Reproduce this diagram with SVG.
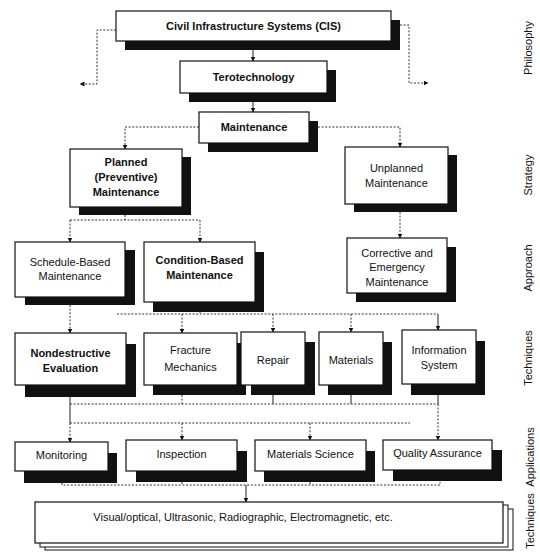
<svg xmlns="http://www.w3.org/2000/svg" width="540" height="552" viewBox="0 0 540 552">
<defs>
<style>
.sh{fill:#111}
.bx{fill:#fff;stroke:#111;stroke-width:1.2}
.t{font-family:"Liberation Sans",Arial,sans-serif;font-size:11px;fill:#111;text-anchor:middle}
.b{font-weight:bold}
.lbl{font-family:"Liberation Sans",Arial,sans-serif;font-size:11px;fill:#111;text-anchor:middle}
.c{fill:none;stroke:#333;stroke-width:1;stroke-dasharray:2 1.6}
.s{fill:none;stroke:#222;stroke-width:1}
</style>
<marker id="ar" viewBox="0 0 10 10" refX="9" refY="5" markerWidth="5" markerHeight="5" orient="auto" markerUnits="userSpaceOnUse">
<path d="M0,0 L10,5 L0,10 z" fill="#111"/>
</marker>
</defs>
<rect width="540" height="552" fill="#fff"/>

<g id="connectors">
<path class="s" d="M253,50 V61" marker-end="url(#ar)"/>
<path class="s" d="M253,102 V112" marker-end="url(#ar)"/>
<path class="c" d="M116,30 H97 V84 H80" marker-end="url(#ar)"/>
<path class="c" d="M400,25 H409 V83 H428" marker-end="url(#ar)"/>
<path class="c" d="M199,127 H125 V149" marker-end="url(#ar)"/>
<path class="c" d="M318,127 H400 V147" marker-end="url(#ar)"/>
<path class="c" d="M125,215 V220"/>
<path class="c" d="M70,220 H200"/>
<path class="c" d="M70,220 V242" marker-end="url(#ar)"/>
<path class="c" d="M200,220 V242" marker-end="url(#ar)"/>
<path class="c" d="M400,212 V238" marker-end="url(#ar)"/>
<path class="c" d="M70,305 V333" marker-end="url(#ar)"/>
<path class="c" d="M200,311 V314"/>
<path class="c" d="M117,314 H438"/>
<path class="c" d="M182,314 V333" marker-end="url(#ar)"/>
<path class="c" d="M273,314 V332" marker-end="url(#ar)"/>
<path class="c" d="M351,314 V332" marker-end="url(#ar)"/>
<path class="s" d="M438,314 V330" marker-end="url(#ar)"/>
<path class="s" d="M70,397 V423"/>
<path class="c" d="M70,404 H438"/>
<path class="c" d="M182,395 V404"/>
<path class="s" d="M273,395 V404"/>
<path class="s" d="M351,395 V404"/>
<path class="s" d="M438,395 V404"/>
<path class="c" d="M70,423 H410"/>
<path class="c" d="M70,423 V442" marker-end="url(#ar)"/>
<path class="c" d="M182,423 V440" marker-end="url(#ar)"/>
<path class="c" d="M310,423 V440" marker-end="url(#ar)"/>
<path class="c" d="M438,404 V440" marker-end="url(#ar)"/>
<path class="c" d="M62,483 V485 H440 V482"/>
<path class="c" d="M182,482 V485"/>
<path class="c" d="M310,482 V485"/>
<path class="s" d="M246,485 V502" marker-end="url(#ar)"/>
</g>

<g id="n-cis">
<rect class="sh" x="125" y="20" width="275" height="30"/>
<rect class="bx" x="116" y="11" width="275" height="30"/>
<text class="t b" x="253.5" y="30">Civil Infrastructure Systems (CIS)</text>
</g>
<g id="n-tero">
<rect class="sh" x="189" y="70" width="147" height="32"/>
<rect class="bx" x="180" y="61" width="147" height="32"/>
<text class="t b" x="253.5" y="81">Terotechnology</text>
</g>
<g id="n-maint">
<rect class="sh" x="208" y="121" width="110" height="31"/>
<rect class="bx" x="199" y="112" width="110" height="31"/>
<text class="t b" x="254" y="131">Maintenance</text>
</g>
<g id="n-planned">
<rect class="sh" x="79" y="157" width="112" height="58"/>
<rect class="bx" x="70" y="149" width="112" height="58"/>
<text class="t b" x="126" y="166">Planned</text>
<text class="t b" x="126" y="181">(Preventive)</text>
<text class="t b" x="126" y="196">Maintenance</text>
</g>
<g id="n-unplanned">
<rect class="sh" x="354" y="155" width="103" height="57"/>
<rect class="bx" x="345" y="147" width="103" height="57"/>
<text class="t" x="396.5" y="172">Unplanned</text>
<text class="t" x="396.5" y="187">Maintenance</text>
</g>
<g id="n-schedule">
<rect class="sh" x="25" y="250" width="110" height="55"/>
<rect class="bx" x="15" y="242" width="110" height="55"/>
<text class="t" x="70" y="266">Schedule-Based</text>
<text class="t" x="70" y="280">Maintenance</text>
</g>
<g id="n-condition">
<rect class="sh" x="153" y="252" width="111" height="60"/>
<rect class="bx" x="144" y="242" width="111" height="60"/>
<text class="t b" x="199.5" y="264">Condition-Based</text>
<text class="t b" x="199.5" y="279">Maintenance</text>
</g>
<g id="n-corrective">
<rect class="sh" x="356" y="247" width="100" height="55"/>
<rect class="bx" x="347" y="238" width="100" height="55"/>
<text class="t" x="397" y="257">Corrective and</text>
<text class="t" x="397" y="271">Emergency</text>
<text class="t" x="397" y="286">Maintenance</text>
</g>
<g id="n-nde">
<rect class="sh" x="25" y="344" width="111" height="53"/>
<rect class="bx" x="15" y="333" width="111" height="52"/>
<text class="t b" x="70.5" y="357">Nondestructive</text>
<text class="t b" x="70.5" y="372">Evaluation</text>
</g>
<g id="n-fracture">
<rect class="sh" x="153" y="343" width="93" height="52"/>
<rect class="bx" x="144" y="333" width="93" height="52"/>
<text class="t" x="190.5" y="354">Fracture</text>
<text class="t" x="190.5" y="371">Mechanics</text>
</g>
<g id="n-repair">
<rect class="sh" x="251" y="342" width="64" height="53"/>
<rect class="bx" x="241" y="332" width="64" height="53"/>
<text class="t" x="273" y="364">Repair</text>
</g>
<g id="n-materials">
<rect class="sh" x="328" y="342" width="64" height="53"/>
<rect class="bx" x="319" y="332" width="64" height="53"/>
<text class="t" x="351" y="364">Materials</text>
</g>
<g id="n-info">
<rect class="sh" x="411" y="341" width="74" height="54"/>
<rect class="bx" x="402" y="330" width="74" height="54"/>
<text class="t" x="439" y="354">Information</text>
<text class="t" x="439" y="369">System</text>
</g>
<g id="n-monitoring">
<rect class="sh" x="24" y="453" width="93" height="30"/>
<rect class="bx" x="15" y="442" width="93" height="29"/>
<text class="t" x="61.5" y="459">Monitoring</text>
</g>
<g id="n-inspection">
<rect class="sh" x="136" y="451" width="111" height="31"/>
<rect class="bx" x="126" y="440" width="111" height="31"/>
<text class="t" x="181.5" y="458">Inspection</text>
</g>
<g id="n-matsci">
<rect class="sh" x="264" y="451" width="111" height="31"/>
<rect class="bx" x="255" y="440" width="111" height="31"/>
<text class="t" x="310.5" y="458">Materials Science</text>
</g>
<g id="n-qa">
<rect class="sh" x="393" y="450" width="109" height="31"/>
<rect class="bx" x="383" y="440" width="109" height="30"/>
<text class="t" x="437.5" y="457">Quality Assurance</text>
</g>
<g id="n-techniques">
<rect class="bx" x="45" y="509" width="468" height="41" style="stroke-width:1"/>
<rect class="bx" x="40" y="505" width="468" height="42" style="stroke-width:1"/>
<rect class="bx" x="35" y="502" width="468" height="41"/>
<text class="t" x="243" y="521">Visual/optical, Ultrasonic, Radiographic, Electromagnetic, etc.</text>
</g>

<g id="labels">
<text class="lbl" transform="translate(532,48) rotate(-90)">Philosophy</text>
<text class="lbl" transform="translate(532,175) rotate(-90)">Strategy</text>
<text class="lbl" transform="translate(532,268) rotate(-90)">Approach</text>
<text class="lbl" transform="translate(532,358) rotate(-90)">Techniques</text>
<text class="lbl" transform="translate(534,457) rotate(-90)">Applications</text>
<text class="lbl" transform="translate(534,521) rotate(-90)">Techniques</text>
</g>
</svg>
